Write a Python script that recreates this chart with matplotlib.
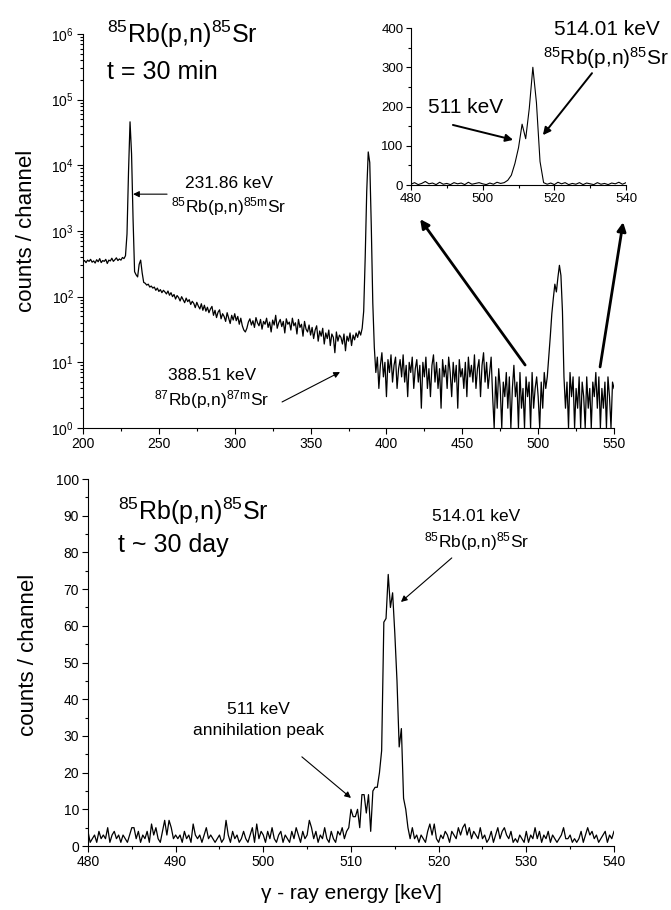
import numpy as np
import matplotlib

matplotlib.use("Agg")
import matplotlib.pyplot as plt
from matplotlib.ticker import MultipleLocator, LogLocator, NullFormatter

# ---- data ----
# 30 min after irradiation, 1 keV per entry from 200 to 550 keV
early_e_start = 200
early_e_step = 1
early_counts = [
    340, 355, 330, 360, 345, 370, 335, 350, 325, 365,
    340, 380, 330, 355, 345, 370, 320, 360, 350, 385,
    345, 365, 390, 355, 375, 360, 395, 380, 420, 900,
    8000, 46000, 15000, 1500, 240, 215, 200, 310, 360, 230,
    165, 160, 150, 155, 140, 145, 135, 140, 125, 135,
    120, 128, 115, 125, 118, 110, 122, 105, 115, 100,
    108, 92, 104, 97, 86, 100, 90, 81, 95, 84,
    90, 76, 85, 79, 68, 82, 72, 65, 78, 62,
    74, 60, 69, 57, 65, 71, 52, 62, 48, 58,
    63, 46, 55, 50, 42, 57, 47, 39, 52, 44,
    55, 43, 50, 38, 47, 36, 31, 29, 33, 41,
    46, 37, 43, 34, 48, 40, 36, 45, 32, 42,
    38, 47, 34, 41, 29, 44, 37, 52, 33, 40,
    45, 35, 42, 28, 46, 38, 41, 31, 47, 36,
    40, 27, 45, 34, 38, 25, 42, 32, 29, 37,
    26, 34, 23, 31, 36, 21, 30, 25, 33, 19,
    28, 23, 31, 18, 27, 24, 14, 29, 21, 26,
    24, 19, 27, 15, 25, 21, 28, 18, 26, 22,
    28, 24, 30, 26, 33, 60, 400, 4000, 16000, 11000,
    1200, 80, 17, 7, 12, 4, 9, 14, 6, 10,
    3, 11, 7, 13, 5, 9, 12, 4, 8, 11,
    6, 13, 5, 9, 3, 10, 7, 12, 4, 8,
    11, 5, 9, 2, 10, 6, 12, 4, 8, 3,
    9, 13, 5, 10, 4, 8, 2, 11, 6, 9,
    4, 12, 7, 3, 10, 5, 9, 2, 11, 6,
    8, 4, 10, 3, 12, 6, 9, 5, 13, 4,
    8, 11, 3, 9, 14, 5, 10, 4, 7, 12,
    3, 1, 6, 2, 8, 4, 1, 5, 3, 7,
    2, 6, 1, 4, 9, 3, 5, 1, 7, 2,
    4, 1, 6, 3, 5, 1, 7, 2, 4, 6,
    3, 1, 5, 2, 7, 4, 6, 12, 25, 55,
    95, 155, 118, 195, 300, 210, 60, 6, 2, 5,
    1, 7, 3, 6, 1, 4, 2, 6, 1, 5,
    3, 1, 6, 2, 4, 1, 5, 3, 7, 2,
    6, 1, 4, 2, 5, 1, 6, 3, 1, 5,
    4,
]

# ~30 days after irradiation, 0.25 keV per entry from 480 to 540 keV
late_e_start = 480
late_e_step = 0.25
late_counts = [
    4, 1, 2, 3,  1, 4, 2, 3,  2, 5, 1, 3,  4, 2, 3, 1,  3, 2, 1, 3,
    5, 5, 2, 4,  1, 3, 2, 4,  1, 6, 3, 5,  2, 1, 4, 7,  3, 7, 5, 2,
    3, 2, 3, 1,  4, 2, 3, 1,  6, 3, 2, 3,  1, 3, 5, 2,  3, 2, 1, 2,
    3, 1, 2, 7,  3, 1, 4, 2,  3, 1, 2, 4,  2, 1, 3, 5,  1, 6, 2, 4,
    3, 1, 4, 2,  5, 2, 1, 3,  4, 1, 3, 2,  1, 4, 2, 5,  3, 1, 4, 2,
    3, 7, 5, 2,  4, 1, 3, 2,  5, 2, 1, 4,  2, 1, 4, 3,  5, 2, 4, 5,
    10, 8, 8, 10,  5, 14, 14, 9,  14, 4, 15, 16,  16, 20, 26, 61,
    62, 74, 65, 69,  58, 45, 27, 32,  13, 10, 5, 2,
    5, 2, 3, 1,  3, 2, 1, 4,  6, 3, 6, 2,  1, 3, 2, 4,  3, 1, 4, 3,
    2, 5, 3, 5,  6, 3, 5, 2,  4, 3, 2, 5,  2, 3, 1, 2,  4, 1, 3, 5,
    2, 4, 5, 3,  2, 4, 1, 2,  1, 3, 2, 1,  4, 1, 3, 2,  5, 2, 4, 1,
    3, 2, 4, 1,  3, 2, 1, 2,  3, 5, 2, 2,  3, 1, 2, 1,  2, 4, 1, 3,
    5, 3, 4, 2,  3, 1, 2, 3,  4, 1, 3, 2,
    4,
]

early_energy = early_e_start + early_e_step * np.arange(len(early_counts))
late_energy = late_e_start + late_e_step * np.arange(len(late_counts))
early_counts = np.array(early_counts, dtype=float)
late_counts = np.array(late_counts, dtype=float)

# ---- style ----
plt.rcParams["font.family"] = ["Liberation Sans", "DejaVu Sans"]
plt.rcParams["mathtext.fontset"] = "custom"
plt.rcParams["mathtext.rm"] = "Liberation Sans"
plt.rcParams["mathtext.it"] = "Liberation Sans:italic"
plt.rcParams["mathtext.bf"] = "Liberation Sans:bold"

LINE = dict(color="black", lw=0.9)
THIN_ARROW = dict(arrowstyle="-|>", color="black", lw=0.8, mutation_scale=9,
                  shrinkA=0, shrinkB=0)
THICK_ARROW = dict(arrowstyle="-|>", color="black", lw=2.0, mutation_scale=13,
                   shrinkA=0, shrinkB=0)
MID_ARROW = dict(arrowstyle="-|>", color="black", lw=1.4, mutation_scale=11,
                 shrinkA=0, shrinkB=0)


def style_axes(ax, labelsize=10):
    for side in ("top", "right"):
        ax.spines[side].set_visible(False)
    for side in ("left", "bottom"):
        ax.spines[side].set_linewidth(0.8)
    ax.tick_params(which="both", direction="out", width=0.8, labelsize=labelsize)
    ax.tick_params(which="major", length=4.5, pad=2)
    ax.tick_params(which="minor", length=2.5)


fig = plt.figure(figsize=(6.71, 9.10), dpi=100)

# ---- top panel: log spectrum ----
ax1 = fig.add_axes([0.1237, 0.5297, 0.7914, 0.4329])
ax1.plot(early_energy, early_counts, **LINE)
ax1.set_yscale("log")
ax1.set_xlim(200, 550)
ax1.set_ylim(1, 1e6)
ax1.xaxis.set_major_locator(MultipleLocator(50))
ax1.xaxis.set_minor_locator(MultipleLocator(25))
ax1.yaxis.set_major_locator(LogLocator(base=10, numticks=10))
ax1.yaxis.set_minor_locator(LogLocator(base=10, subs=np.arange(2, 10), numticks=100))
ax1.yaxis.set_minor_formatter(NullFormatter())
style_axes(ax1)
ax1.set_ylabel("counts / channel", fontsize=16)
ax1.yaxis.set_label_coords(-0.086, 0.5)

ax1.text(0.045, 0.977, r"$^{85}$Rb(p,n)$^{85}$Sr", transform=ax1.transAxes,
         fontsize=18, ha="left", va="baseline")
ax1.text(0.045, 0.886, "t = 30 min", transform=ax1.transAxes,
         fontsize=18, ha="left", va="baseline")

ax1.text(0.275, 0.609, "231.86 keV", transform=ax1.transAxes,
         fontsize=12.5, ha="center", va="baseline")
ax1.text(0.275, 0.548, r"$^{85}$Rb(p,n)$^{85\mathrm{m}}$Sr", transform=ax1.transAxes,
         fontsize=12.5, ha="center", va="baseline")
ax1.annotate("", xy=(233.0, 3640), xytext=(255.4, 3640), arrowprops=THIN_ARROW)

ax1.text(0.243, 0.122, "388.51 keV", transform=ax1.transAxes,
         fontsize=12.5, ha="center", va="baseline")
ax1.text(0.243, 0.058, r"$^{87}$Rb(p,n)$^{87\mathrm{m}}$Sr", transform=ax1.transAxes,
         fontsize=12.5, ha="center", va="baseline")
ax1.annotate("", xy=(369.4, 7.1), xytext=(331.2, 2.49), arrowprops=THIN_ARROW)

# big arrows towards the inset
ax1.annotate("", xy=(422.2, 1515), xytext=(491.4, 9.1), arrowprops=THICK_ARROW,
             annotation_clip=False)
ax1.annotate("", xy=(556.0, 1365), xytext=(540.8, 8.5), arrowprops=THICK_ARROW,
             annotation_clip=False)

# ---- inset: linear zoom of the 511/514 keV region ----
ins = fig.add_axes([0.6125, 0.7967, 0.3205, 0.1725])
sel = (early_energy >= 480) & (early_energy <= 540)
ins.plot(early_energy[sel], early_counts[sel], color="black", lw=0.8)
ins.set_xlim(480, 540)
ins.set_ylim(0, 400)
ins.xaxis.set_major_locator(MultipleLocator(20))
ins.xaxis.set_minor_locator(MultipleLocator(10))
ins.yaxis.set_major_locator(MultipleLocator(100))
ins.yaxis.set_minor_locator(MultipleLocator(50))
style_axes(ins, labelsize=9.5)
ins.tick_params(which="major", length=3.5)
ins.tick_params(which="minor", length=2)

ins.text(0.256, 0.459, "511 keV", transform=ins.transAxes,
         fontsize=15, ha="center", va="baseline")
ins.annotate("", xy=(508.5, 115), xytext=(491.7, 153), arrowprops=MID_ARROW)
ins.text(0.909, 0.955, "514.01 keV", transform=ins.transAxes,
         fontsize=15, ha="center", va="baseline")
ins.text(0.909, 0.764, r"$^{85}$Rb(p,n)$^{85}$Sr", transform=ins.transAxes,
         fontsize=15, ha="center", va="baseline")
ins.annotate("", xy=(516.8, 127), xytext=(530.5, 285), arrowprops=MID_ARROW,
             annotation_clip=False)

# ---- bottom panel: 30 day spectrum ----
ax2 = fig.add_axes([0.1311, 0.0703, 0.7839, 0.4033])
ax2.plot(late_energy, late_counts, **LINE)
ax2.set_xlim(480, 540)
ax2.set_ylim(0, 100)
ax2.xaxis.set_major_locator(MultipleLocator(10))
ax2.xaxis.set_minor_locator(MultipleLocator(5))
ax2.yaxis.set_major_locator(MultipleLocator(10))
ax2.yaxis.set_minor_locator(MultipleLocator(5))
style_axes(ax2)
ax2.set_ylabel("counts / channel", fontsize=16)
ax2.yaxis.set_label_coords(-0.093, 0.52)
ax2.set_xlabel("\u03b3 - ray energy [keV]", fontsize=15)
ax2.xaxis.set_label_coords(0.5, -0.104)

ax2.text(0.057, 0.888, r"$^{85}$Rb(p,n)$^{85}$Sr", transform=ax2.transAxes,
         fontsize=18, ha="left", va="baseline")
ax2.text(0.057, 0.801, "t ~ 30 day", transform=ax2.transAxes,
         fontsize=18, ha="left", va="baseline")

ax2.text(0.738, 0.886, "514.01 keV", transform=ax2.transAxes,
         fontsize=12.5, ha="center", va="baseline")
ax2.text(0.738, 0.815, r"$^{85}$Rb(p,n)$^{85}$Sr", transform=ax2.transAxes,
         fontsize=12.5, ha="center", va="baseline")
ax2.annotate("", xy=(515.7, 66.5), xytext=(521.5, 78.5), arrowprops=THIN_ARROW)

ax2.text(0.325, 0.36, "511 keV", transform=ax2.transAxes,
         fontsize=12.5, ha="center", va="baseline")
ax2.text(0.325, 0.302, "annihilation peak", transform=ax2.transAxes,
         fontsize=12.5, ha="center", va="baseline")
ax2.annotate("", xy=(510.0, 13.1), xytext=(504.4, 24.3), arrowprops=THIN_ARROW)

fig.savefig("out.png", dpi=100)
plt.close(fig)
